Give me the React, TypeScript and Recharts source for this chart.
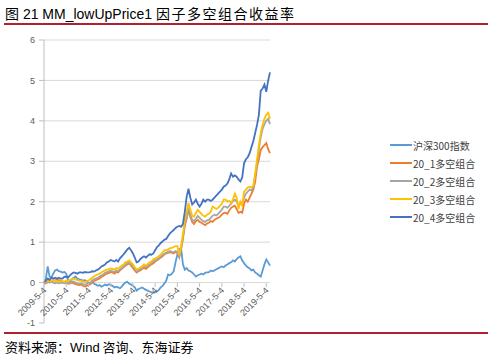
import React from "react";
import { CartesianGrid, Legend, Line, LineChart, ReferenceLine, XAxis, YAxis } from "recharts";

// month-end style categories, 2009-5-4 .. 2019-7-4
const startYear = 2009;
const startMonth = 5;
const pointCount = 123;

const tickLabels = [
  "2009-5-4", "2010-5-4", "2011-5-4", "2012-5-4", "2013-5-4", "2014-5-4",
  "2015-5-4", "2016-5-4", "2017-5-4", "2018-5-4", "2019-5-4"
];

const yTicks = [-1, 0, 1, 2, 3, 4, 5, 6];

const seriesNames = ["沪深300指数", "20_1多空组合", "20_2多空组合", "20_3多空组合", "20_4多空组合"];
const seriesColors = ["#5B9BD5", "#ED7D31", "#A5A5A5", "#FFC000", "#4472C4"];

const hs300 = [
  0, 0.1, 0.4, 0.15, 0.12, 0.22, 0.3, 0.32, 0.28, 0.27, 0.25, 0.26,
  0.22, 0.05, 0.02, 0.08, 0.12, 0.15, 0.1, 0.08, 0.07, 0.05, 0.06, 0.04,
  0.0, -0.02, 0.02, -0.03, -0.05, -0.08, -0.06, -0.1, -0.08, -0.05, -0.07, -0.04,
  -0.06, -0.08, -0.12, -0.1, -0.12, -0.14, -0.1, -0.04, 0.0, 0.02, -0.03, -0.05,
  -0.08, -0.12, -0.2, -0.16, -0.14, -0.12, -0.15, -0.18, -0.2, -0.22, -0.24, -0.25,
  -0.24, -0.22, -0.18, -0.12, -0.08, -0.02, 0.05, 0.2, 0.18, 0.22, 0.28, 0.5,
  0.7, 0.82, 0.85, 0.45, 0.32, 0.36, 0.3, 0.28, 0.25, 0.2, 0.15, 0.18,
  0.2, 0.22, 0.2, 0.24, 0.25, 0.26, 0.3, 0.28, 0.3, 0.33, 0.35, 0.38,
  0.4, 0.38, 0.42, 0.45, 0.48, 0.5, 0.55, 0.52, 0.58, 0.62, 0.65, 0.55,
  0.48, 0.42, 0.38, 0.35, 0.3, 0.32, 0.25, 0.22, 0.18, 0.15, 0.3, 0.45,
  0.57, 0.5, 0.42
];

const ls1 = [
  0, -0.02, 0.02, 0.0, 0.04, 0.06, 0.05, 0.08, 0.06, 0.05, 0.03, 0.02,
  0.0, -0.03, -0.02, 0.0, -0.02, -0.04, -0.05, -0.06, -0.05, -0.08, -0.1, -0.08,
  -0.06, -0.04, 0.0, 0.04, 0.06, 0.08, 0.1, 0.14, 0.16, 0.2, 0.22, 0.24,
  0.26, 0.25, 0.22, 0.26, 0.25, 0.3, 0.34, 0.38, 0.42, 0.45, 0.48, 0.42,
  0.36, 0.3, 0.25, 0.28, 0.3, 0.34, 0.36, 0.34, 0.38, 0.42, 0.45, 0.48,
  0.52, 0.55, 0.58, 0.62, 0.65, 0.7, 0.72, 0.74, 0.75, 0.74, 0.72, 0.76,
  0.74, 0.62, 0.82, 1.08, 1.4, 1.58, 1.8, 1.62, 1.5, 1.45, 1.52, 1.55,
  1.5, 1.48, 1.45, 1.42, 1.46, 1.48, 1.52, 1.5, 1.55, 1.58, 1.6, 1.63,
  1.68, 1.72, 1.73, 1.7, 1.78, 1.85, 1.88, 1.9, 1.82, 1.72, 1.75, 1.73,
  1.95, 2.05, 2.0, 2.1, 2.2, 2.3, 2.5, 2.87, 3.05, 3.28, 3.35, 3.4,
  3.45, 3.3, 3.2
];

const ls2 = [
  0, 0.0, 0.03, 0.0, 0.02, 0.0, -0.02, 0.0, -0.02, 0.0, -0.01, -0.02,
  0.0, -0.02, 0.0, 0.02, 0.03, 0.0, -0.02, -0.03, -0.02, -0.04, -0.05, -0.03,
  -0.02, 0.0, 0.05, 0.08, 0.1, 0.12, 0.15, 0.18, 0.2, 0.24, 0.26, 0.28,
  0.3, 0.28, 0.26, 0.3, 0.28, 0.32, 0.36, 0.4, 0.45, 0.48, 0.5, 0.45,
  0.4, 0.34, 0.28, 0.3, 0.34, 0.36, 0.4, 0.38, 0.42, 0.45, 0.48, 0.52,
  0.55, 0.57, 0.6, 0.64, 0.68, 0.72, 0.74, 0.76, 0.78, 0.76, 0.75, 0.78,
  0.76, 0.64, 0.85, 1.12, 1.45, 1.62, 1.85, 1.68, 1.55, 1.52, 1.58, 1.65,
  1.6, 1.55, 1.52, 1.5, 1.54, 1.55, 1.6, 1.65, 1.68, 1.66, 1.7, 1.75,
  1.8, 1.88, 1.88, 1.85, 1.9, 1.95, 2.02, 2.05, 2.0, 1.9, 1.97, 1.95,
  2.1, 2.2, 2.25, 2.3, 2.28, 2.35, 2.65, 2.95, 3.3, 3.6, 3.8, 3.92,
  4.0, 4.05, 3.92
];

const ls3 = [
  0, 0.02, 0.05, 0.03, 0.06, 0.05, 0.04, 0.03, 0.02, 0.04, 0.03, 0.02,
  0.05, 0.04, 0.06, 0.08, 0.1, 0.08, 0.06, 0.05, 0.04, 0.03, 0.02, 0.03,
  0.05, 0.08, 0.12, 0.15, 0.18, 0.2, 0.22, 0.25, 0.28, 0.3, 0.32, 0.33,
  0.35, 0.34, 0.32, 0.36, 0.34, 0.38, 0.42, 0.45, 0.5, 0.52, 0.55, 0.5,
  0.45, 0.38, 0.32, 0.34, 0.38, 0.4, 0.45, 0.42, 0.46, 0.5, 0.52, 0.58,
  0.6, 0.62, 0.65, 0.7, 0.75, 0.8, 0.8, 0.82, 0.85, 0.86, 0.88, 0.9,
  0.9, 0.68, 0.9, 1.2, 1.56, 1.75, 1.97, 1.8, 1.65, 1.63, 1.72, 1.8,
  1.75, 1.7, 1.65, 1.63, 1.68, 1.7, 1.75, 1.88, 1.85, 1.82, 1.85, 1.9,
  1.95, 2.05, 2.05, 2.0, 2.02, 1.97, 2.05, 2.2, 2.1, 1.82, 2.0, 1.9,
  2.25, 2.3, 2.35, 2.37, 2.35, 2.4, 2.7, 3.04, 3.4, 3.7, 3.9, 4.05,
  4.15, 4.2, 4.05
];

const ls4 = [
  0, 0.05, 0.1, 0.07, 0.12, 0.1, 0.12, 0.1, 0.12, 0.1, 0.1, 0.14,
  0.15, 0.13, 0.18, 0.22, 0.25, 0.24, 0.22, 0.25, 0.25, 0.24, 0.26, 0.25,
  0.25, 0.26, 0.28, 0.27, 0.3, 0.32, 0.35, 0.4, 0.42, 0.45, 0.5, 0.52,
  0.56, 0.54, 0.52, 0.56, 0.52, 0.6, 0.65, 0.7, 0.76, 0.82, 0.86, 0.8,
  0.72, 0.62, 0.5, 0.52, 0.58, 0.62, 0.65, 0.62, 0.66, 0.7, 0.69, 0.72,
  0.8, 0.88, 0.92, 0.98, 1.02, 1.06, 1.08, 1.15, 1.22, 1.26, 1.3, 1.35,
  1.38, 1.4, 1.38, 1.45, 1.75, 2.12, 2.32, 2.1, 1.93, 1.98, 2.05, 1.95,
  1.88, 1.95, 2.05, 2.0, 2.05, 2.05, 2.02, 2.05, 2.1, 2.15, 2.2, 2.25,
  2.3, 2.37, 2.4, 2.45, 2.55, 2.7, 2.62, 2.65, 2.62, 2.55, 2.5, 2.6,
  2.95, 3.05, 3.1, 3.2, 3.35, 3.5, 3.7, 3.9, 4.15, 4.75, 4.8, 4.9,
  4.72, 5.0, 5.2
];

const seriesValues = [hs300, ls1, ls2, ls3, ls4];

const dates: string[] = [];
for (let i = 0; i < pointCount; i++) {
  const t = startYear * 12 + (startMonth - 1) + i;
  dates.push(`${Math.floor(t / 12)}-${(t % 12) + 1}-4`);
}

const data = dates.map((date, i) => {
  const row: Record<string, string | number> = { date };
  seriesNames.forEach((name, k) => {
    row[name] = seriesValues[k][i];
  });
  return row;
});

const latin = '"Liberation Sans", Arial, "Noto Sans CJK SC", sans-serif';
const cjk = '"Noto Sans CJK SC", "Liberation Sans", sans-serif';
const red = "#B0202E";

// x labels sit under the zero line (Excel axis crosses at 0)
function DateTick(props: any) {
  const { x, y, payload } = props;
  const y0 = y - 40;
  return (
    <g>
      <line x1={x} x2={x} y1={y0} y2={y0 + 4} stroke="#BFBFBF" />
      <text
        transform={`translate(${x + 3},${y0 + 8}) rotate(-45)`}
        textAnchor="end"
        fontSize={9}
        fill="#595959"
        fontFamily={latin}
      >
        {payload.value}
      </text>
    </g>
  );
}

function LegendBox() {
  return (
    <div style={{ fontFamily: cjk, fontSize: 10, color: "#404040" }}>
      {seriesNames.map((name, k) => (
        <div key={name} style={{ display: "flex", alignItems: "center", height: 18 }}>
          <svg width={22} height={4} style={{ marginRight: 1 }}>
            <line x1={0} x2={22} y1={2} y2={2} stroke={seriesColors[k]} strokeWidth={2} />
          </svg>
          <span>{name}</span>
        </div>
      ))}
    </div>
  );
}

export default function App() {
  return (
    <div style={{ position: "absolute", left: 0, top: 0, width: 493, height: 357, background: "#fff" }}>
      <div style={{ position: "absolute", left: 5, top: 3, fontSize: 14, color: "#000", whiteSpace: "nowrap" }}>
        <span style={{ fontFamily: latin }}>图 21 MM_lowUpPrice1 </span>
        <span style={{ fontFamily: cjk, letterSpacing: 1.5 }}>因子多空组合收益率</span>
      </div>
      <div style={{ position: "absolute", left: 4, top: 23, width: 484, height: 2, background: red }} />

      <LineChart
        width={493}
        height={357}
        data={data}
        margin={{ top: 40, right: 120, bottom: 4, left: 14 }}
        style={{ position: "absolute", left: 0, top: 0 }}
      >
        <CartesianGrid vertical={false} horizontal={false} />
        {yTicks
          .filter((v) => v >= 0)
          .map((v) => (
            <ReferenceLine key={v} y={v} stroke="#D9D9D9" strokeWidth={1} />
          ))}
        <XAxis
          dataKey="date"
          ticks={tickLabels}
          interval={0}
          height={30}
          axisLine={false}
          tickLine={false}
          tickSize={0}
          tickMargin={0}
          tick={<DateTick />}
        />
        <YAxis
          domain={[-1, 6]}
          ticks={yTicks}
          width={30}
          axisLine={{ stroke: "#BFBFBF" }}
          tickLine={{ stroke: "#BFBFBF" }}
          tickSize={5}
          tickMargin={4}
          tick={{ fontSize: 9, fill: "#595959", fontFamily: latin }}
        />
        <Legend
          layout="vertical"
          align="right"
          verticalAlign="top"
          wrapperStyle={{ left: 390, top: 136, width: 103 }}
          content={() => <LegendBox />}
        />
        {seriesNames.map((name, k) => (
          <Line
            key={name}
            type="linear"
            dataKey={name}
            stroke={seriesColors[k]}
            strokeWidth={1.8}
            dot={false}
            isAnimationActive={false}
          />
        ))}
      </LineChart>

      <div style={{ position: "absolute", left: 4, top: 332, width: 484, height: 2, background: red }} />
      <div style={{ position: "absolute", left: 5, top: 337, fontSize: 13, fontFamily: cjk, color: "#000", whiteSpace: "nowrap" }}>
        资料来源：<span style={{ fontFamily: latin }}>Wind</span> 咨询、东海证券
      </div>
    </div>
  );
}
